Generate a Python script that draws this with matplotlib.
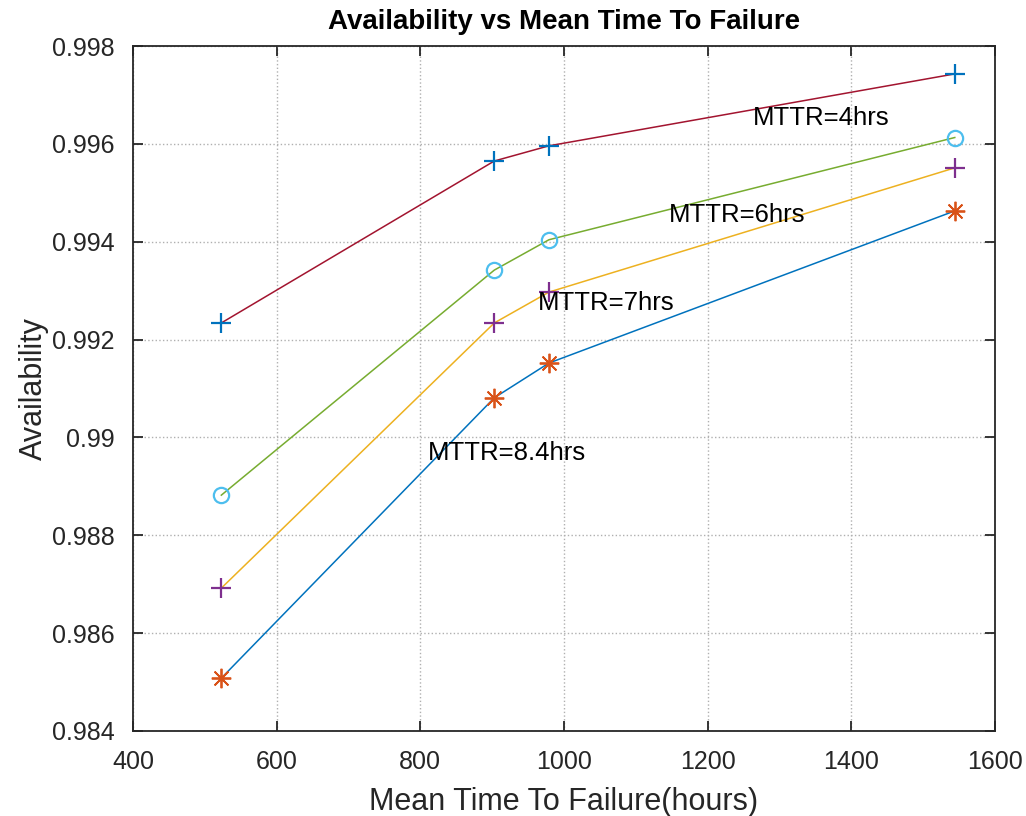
import matplotlib
matplotlib.use('Agg')
import matplotlib.pyplot as plt

# ---- data ----
mttf = [523, 903, 979, 1544]  # hours

avail_4 = [0.99234, 0.99565, 0.99596, 0.99743]
avail_6 = [0.98882, 0.99342, 0.99404, 0.99613]
avail_7 = [0.98692, 0.99234, 0.99297, 0.99551]
avail_84 = [0.98508, 0.99081, 0.99152, 0.99463]

labels = ['MTTR=4hrs', 'MTTR=6hrs', 'MTTR=7hrs', 'MTTR=8.4hrs']
label_x = [1263, 1146, 964, 811]
label_y = [0.99652, 0.99455, 0.99275, 0.98968]

xticks = [400, 600, 800, 1000, 1200, 1400, 1600]
yticks = [0.984, 0.986, 0.988, 0.99, 0.992, 0.994, 0.996, 0.998]
ytick_labels = ['0.984', '0.986', '0.988', '0.99', '0.992', '0.994', '0.996', '0.998']

# MATLAB default colours
blue = '#0072BD'
orange = '#D95319'
yellow = '#EDB120'
purple = '#7E2F8E'
green = '#77AC30'
cyan = '#4DBEEE'
darkred = '#A2142F'

plt.rcParams['font.family'] = ['Liberation Sans', 'DejaVu Sans']

fig = plt.figure(figsize=(10.26, 8.16), dpi=100)
ax = fig.add_axes([0.1296, 0.1042, 0.8402, 0.8394])

# lines first, markers on top (as separate plots)
ax.plot(mttf, avail_4, color=darkred, lw=1.1)
ax.plot(mttf, avail_6, color=green, lw=1.1)
ax.plot(mttf, avail_7, color=yellow, lw=1.1)
ax.plot(mttf, avail_84, color=blue, lw=1.1)

ax.plot(mttf, avail_4, '+', color=blue, ms=15, mew=1.6)
ax.plot(mttf, avail_6, 'o', color=cyan, ms=11, mfc='none', mew=1.6)
ax.plot(mttf, avail_7, '+', color=purple, ms=15, mew=1.6)
ax.plot(mttf, avail_84, marker=(8, 2, 0), ls='none', color=orange, ms=14, mew=1.3)

for t, x, y in zip(labels, label_x, label_y):
    ax.text(x, y, t, fontsize=18.5, color='black', va='center', ha='left')

ax.set_xlim(400, 1600)
ax.set_ylim(0.984, 0.998)
ax.set_xticks(xticks)
ax.set_yticks(yticks)
ax.set_yticklabels(ytick_labels)

ax.grid(True, linestyle=':', color='#b0b0b0', linewidth=1.0)
ax.tick_params(direction='in', length=7, width=1.3, labelsize=18, colors='#262626',
               top=True, right=True)
ax.tick_params(axis='x', pad=14)
ax.tick_params(axis='y', pad=13)
for s in ax.spines.values():
    s.set_linewidth(1.3)
    s.set_color('#262626')

ax.set_title('Availability vs Mean Time To Failure', fontsize=20, fontweight='bold', pad=12)
ax.set_xlabel('Mean Time To Failure(hours)', fontsize=22, color='#262626', labelpad=9)
ax.set_ylabel('Availability', fontsize=22, color='#262626', labelpad=2)

plt.savefig('out.png', dpi=100)
